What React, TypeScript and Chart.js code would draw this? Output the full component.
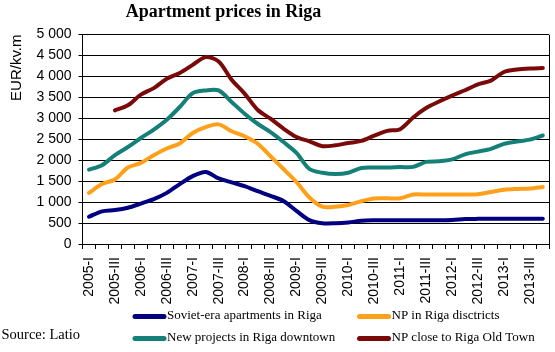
import React, { useEffect, useRef } from "react";
import { Chart, registerables } from "chart.js";

Chart.register(...registerables);

const quarters = [
  "2005-I", "2005-II", "2005-III", "2005-IV",
  "2006-I", "2006-II", "2006-III", "2006-IV",
  "2007-I", "2007-II", "2007-III", "2007-IV",
  "2008-I", "2008-II", "2008-III", "2008-IV",
  "2009-I", "2009-II", "2009-III", "2009-IV",
  "2010-I", "2010-II", "2010-III", "2010-IV",
  "2011-I", "2011-II", "2011-III", "2011-IV",
  "2012-I", "2012-II", "2012-III", "2012-IV",
  "2013-I", "2013-II", "2013-III", "2013-IV",
];

const sovietEra = [
  650, 780, 810, 865, 965, 1070, 1220, 1430, 1620, 1720, 1565, 1470,
  1380, 1260, 1150, 1025, 790, 570, 495, 495, 515, 555, 565, 565,
  565, 565, 565, 565, 570, 595, 600, 600, 600, 600, 600, 600,
];

const npDistricts = [
  1220, 1430, 1540, 1825, 1935, 2120, 2280, 2400, 2650, 2790, 2855, 2690,
  2570, 2395, 2095, 1790, 1480, 1110, 890, 890, 930, 1020, 1085, 1090,
  1090, 1180, 1180, 1180, 1180, 1180, 1185, 1240, 1295, 1315, 1325, 1360,
];

const npDowntown = [
  1775, 1880, 2120, 2315, 2530, 2730, 2965, 3270, 3600, 3665, 3665, 3390,
  3110, 2870, 2670, 2435, 2175, 1790, 1700, 1670, 1700, 1815, 1825, 1825,
  1835, 1840, 1960, 1975, 2020, 2140, 2205, 2270, 2390, 2445, 2490, 2590,
];

const npOldTown: (number | null)[] = [
  null, null, 3190, 3310, 3565, 3720, 3945, 4080, 4275, 4460, 4355, 3920,
  3590, 3205, 2990, 2755, 2555, 2450, 2335, 2355, 2410, 2460, 2585, 2700,
  2740, 3020, 3245, 3400, 3540, 3670, 3810, 3900, 4105, 4165, 4190, 4200,
];

const seriesNames = [
  "Soviet-era apartments in Riga",
  "NP in Riga disctricts",
  "New projects in Riga downtown",
  "NP close to Riga Old Town",
];
const seriesColors = ["#000080", "#FFA01A", "#158078", "#7A0A0A"];

const titleText = "Apartment prices in Riga";
const yTitle = "EUR/kv.m";
const sourceText = "Source: Latio";

function fmt(v: number) {
  const s = String(Math.round(v));
  return s.replace(/\B(?=(\d{3})+(?!\d))/g, " ");
}

const decorPlugin = {
  id: "decor",
  afterDraw(chart: any) {
    const { ctx, chartArea } = chart;
    ctx.save();
    // right border
    ctx.strokeStyle = "#000";
    ctx.lineWidth = 1;
    ctx.beginPath();
    const rx = Math.round(chartArea.right) + 0.5;
    ctx.moveTo(rx, Math.round(chartArea.top));
    ctx.lineTo(rx, Math.round(chartArea.bottom) + 1);
    ctx.stroke();

    // title
    ctx.fillStyle = "#000";
    ctx.font = "bold 18px 'Liberation Serif'";
    ctx.textAlign = "center";
    ctx.textBaseline = "middle";
    ctx.fillText(titleText, 223.5, 12.5);

    // source
    ctx.font = "14.5px 'Liberation Serif'";
    ctx.textAlign = "left";
    ctx.fillText(sourceText, 1.5, 335.5);

    // legend
    const items = [
      { i: 0, x0: 133, y: 316.5 },
      { i: 1, x0: 357.5, y: 316.5 },
      { i: 2, x0: 133, y: 338.5 },
      { i: 3, x0: 357.5, y: 338.5 },
    ];
    ctx.font = "13px 'Liberation Serif'";
    for (const it of items) {
      ctx.strokeStyle = seriesColors[it.i];
      ctx.lineWidth = 5;
      ctx.lineCap = "round";
      ctx.beginPath();
      ctx.moveTo(it.x0 + 2, it.y);
      ctx.lineTo(it.x0 + 31, it.y);
      ctx.stroke();
      ctx.fillStyle = "#000";
      ctx.fillText(seriesNames[it.i], it.x0 + 34, it.y - 1);
    }
    ctx.restore();
  },
};

export default function App() {
  const ref = useRef<HTMLCanvasElement | null>(null);

  useEffect(() => {
    if (!ref.current) return;
    const allData = [sovietEra, npDistricts, npDowntown, npOldTown];
    const chart = new Chart(ref.current, {
      type: "line",
      data: {
        labels: quarters,
        datasets: allData.map((d, i) => ({
          label: seriesNames[i],
          data: d,
          borderColor: seriesColors[i],
          backgroundColor: seriesColors[i],
          borderWidth: 4,
          pointRadius: 0,
          tension: 0.3,
          borderCapStyle: "round" as const,
          borderJoinStyle: "round" as const,
          fill: false,
          spanGaps: false,
        })),
      },
      options: {
        animation: false,
        responsive: false,
        devicePixelRatio: 1,
        layout: {
          autoPadding: false,
          padding: { top: 34.5, right: 5.7, bottom: 0, left: 0 },
        },
        plugins: {
          legend: { display: false },
          title: { display: false },
          tooltip: { enabled: false },
        },
        scales: {
          x: {
            type: "category",
            offset: true,
            grid: {
              display: true,
              drawOnChartArea: false,
              drawTicks: true,
              tickLength: 5,
              color: "#000",
              offset: true,
            },
            border: { display: true, color: "#000", width: 1 },
            ticks: {
              autoSkip: false,
              maxRotation: 90,
              minRotation: 90,
              padding: 8,
              color: "#000",
              font: { family: "'Liberation Sans'", size: 14 },
              callback: (_v: any, i: number) => (i % 2 === 0 ? quarters[i] : ""),
            },
            afterFit: (s: any) => {
              s.height = 108;
              s.paddingLeft = 0;
              s.paddingRight = 0;
            },
          },
          y: {
            min: 0,
            max: 5000,
            ticks: {
              stepSize: 500,
              padding: 7,
              color: "#000",
              font: { family: "'Liberation Sans'", size: 14 },
              callback: (v: any) => fmt(Number(v)),
            },
            grid: {
              color: "#000",
              lineWidth: 1,
              drawTicks: true,
              tickLength: 4,
            },
            border: { display: true, color: "#000", width: 1 },
            title: {
              display: true,
              text: yTitle,
              align: "end",
              color: "#000",
              font: { family: "'Liberation Sans'", size: 15 },
              padding: { top: 8, bottom: 0 },
            },
            afterFit: (s: any) => {
              s.width = 82.5;
              s.paddingTop = 0;
              s.paddingBottom = 0;
            },
          },
        },
      },
      plugins: [decorPlugin],
    } as any);
    return () => chart.destroy();
  }, []);

  return (
    <div style={{ position: "fixed", left: 0, top: 0, width: 555, height: 352, background: "#fff" }}>
      <canvas ref={ref} width={555} height={352} style={{ width: 555, height: 352, display: "block" }} />
    </div>
  );
}
